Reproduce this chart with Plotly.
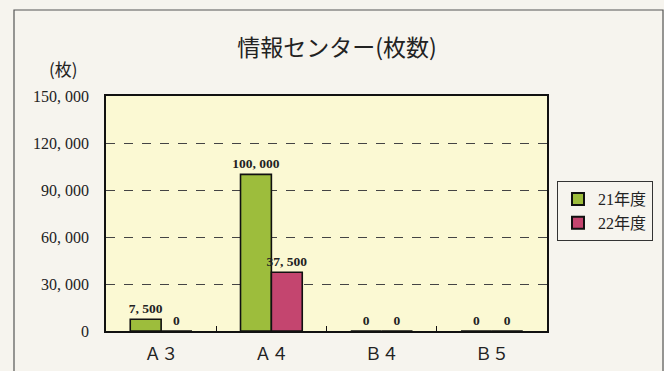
import plotly.graph_objects as go

categories = ["Ａ３", "Ａ４", "Ｂ４", "Ｂ５"]
series_names = ["21年度", "22年度"]
values_21 = [7500, 100000, 0, 0]
values_22 = [0, 37500, 0, 0]
y_tick_vals = [0, 30000, 60000, 90000, 120000, 150000]
y_tick_text = ["0", "30, 000", "60, 000", "90, 000", "120, 000", "150, 000"]
title_text = "情報センター(枚数)"
unit_text = "(枚)"

colors = ["#9dbd3c", "#c4456f"]
num_font = "Liberation Serif, Noto Sans CJK JP, serif"

def fmt(v):
    return f"{v:,}".replace(",", ", ")

fig = go.Figure()
for name, vals, col in zip(series_names, [values_21, values_22], colors):
    fig.add_trace(go.Bar(
        x=categories, y=vals, name=name,
        marker=dict(color=col, line=dict(color="#111111", width=1.6)),
        text=["<b>" + fmt(v) + "</b>" for v in vals], textposition="outside",
        constraintext="none",
        textfont=dict(family=num_font, size=13.5, color="#222222"),
        cliponaxis=False,
    ))

W, H = 664, 371
L, R, T, B = 106, 117, 96, 40
pw, ph = W - L - R, H - T - B

def px(x):
    return (x - L) / pw

def py(y):
    return (H - B - y) / ph

fig.update_layout(
    width=W, height=H,
    margin=dict(l=L, r=R, t=T, b=B, autoexpand=False),
    paper_bgcolor="#f6f4ee",
    plot_bgcolor="#fbf9d3",
    barmode="group", bargap=0.44, bargroupgap=0,
    showlegend=True,
    legend=dict(
        x=px(557), y=py(181), xanchor="left", yanchor="top",
        bgcolor="rgba(0,0,0,0)", bordercolor="#333333", borderwidth=1,
        font=dict(family="Liberation Serif, Noto Sans CJK JP, serif", size=16, color="#222222"),
        itemsizing="constant", itemwidth=30, tracegroupgap=2,
    ),
    title=dict(text=title_text, x=337 / W, xanchor="center", y=1 - 48 / H, yanchor="middle",
               font=dict(family="Noto Sans CJK JP, serif", size=23, color="#222222")),
    annotations=[dict(text=unit_text, xref="paper", yref="paper", x=px(63), y=py(68),
                      xanchor="center", yanchor="middle", showarrow=False,
                      font=dict(family="Noto Sans CJK JP, serif", size=17, color="#222222"))],
    shapes=[dict(type="rect", xref="paper", yref="paper",
                 x0=px(14), x1=px(663), y0=py(380), y1=py(10),
                 line=dict(color="#555555", width=1.2), layer="below")],
    xaxis=dict(
        showline=True, linecolor="#111111", linewidth=1.5, mirror=True,
        ticks="inside", tickson="boundaries", ticklen=5, tickcolor="#111111",
        ticklabelstandoff=7,
        tickfont=dict(family="Noto Sans CJK JP, serif", size=17, color="#222222"),
        showgrid=False, automargin=False,
    ),
    yaxis=dict(
        range=[0, 150000], tickvals=y_tick_vals, ticktext=y_tick_text,
        showline=True, linecolor="#111111", linewidth=1.5, mirror=True,
        ticks="", ticklabelstandoff=12,
        tickfont=dict(family=num_font, size=16, color="#222222"),
        showgrid=True, gridcolor="#444444", griddash="dash", gridwidth=1,
        zeroline=False, automargin=False,
    ),
)

fig.write_html("out.html", config={"displayModeBar": False},
               post_script="document.body.style.margin='0';document.body.style.overflow='hidden';")
